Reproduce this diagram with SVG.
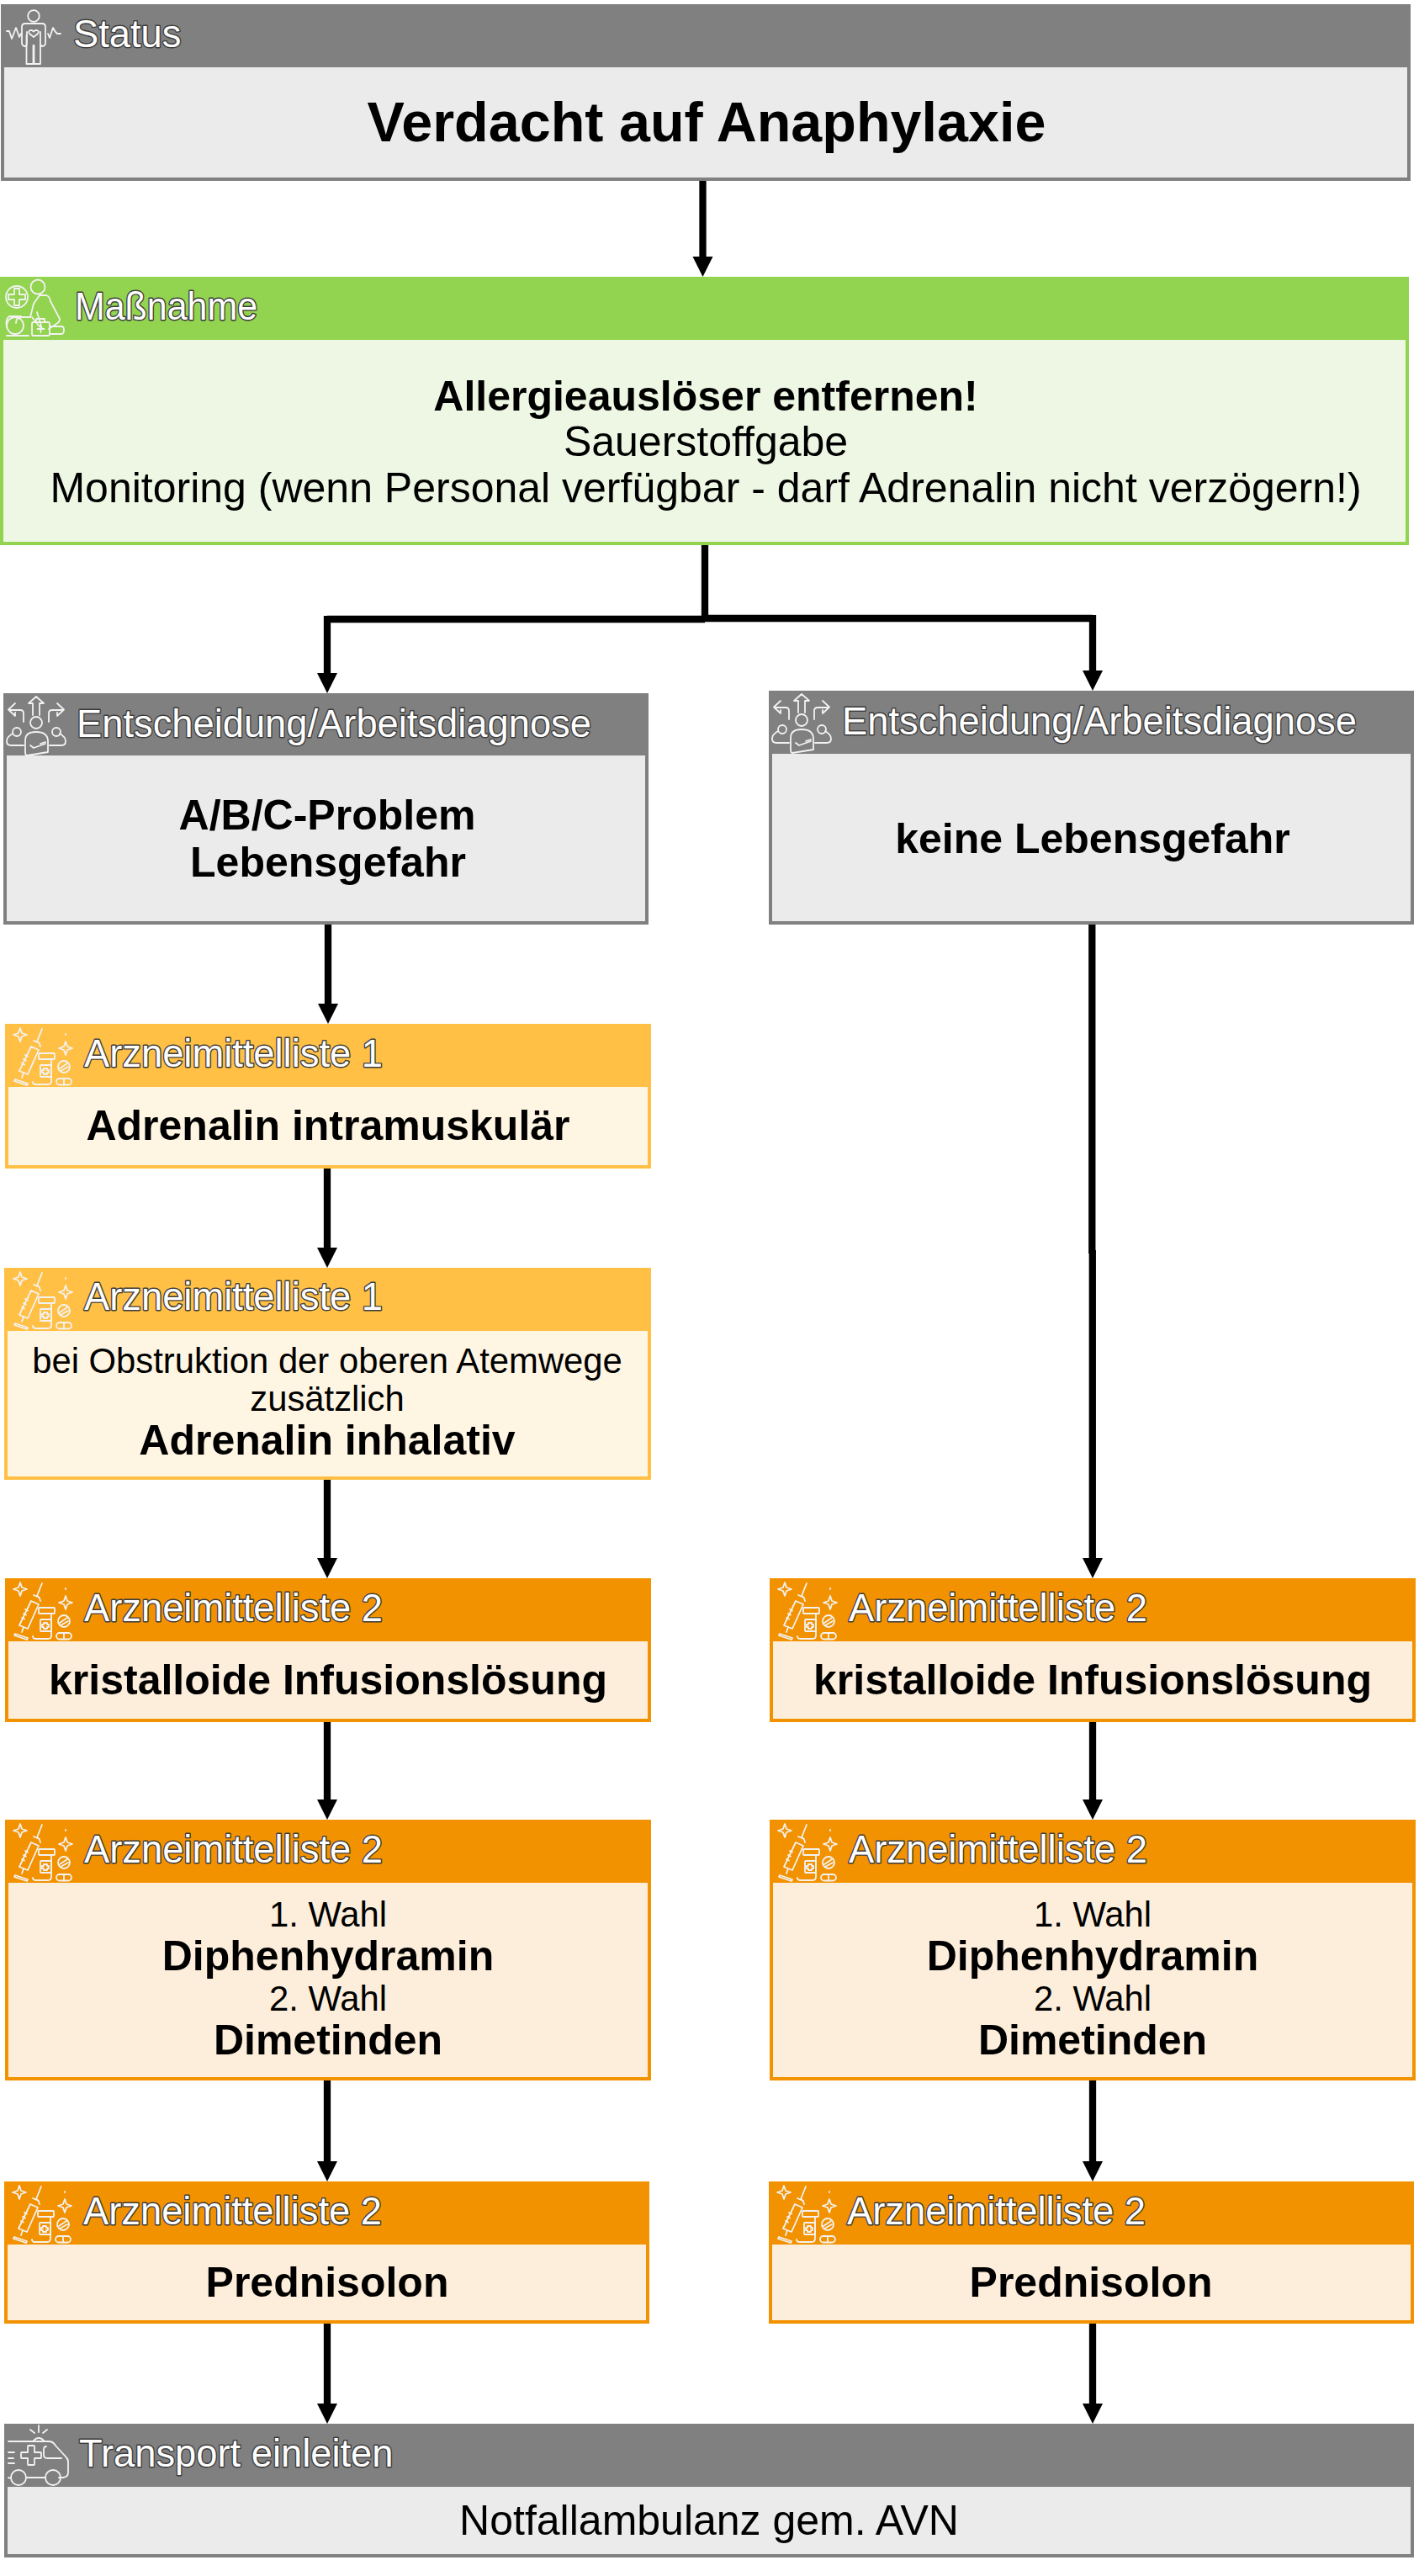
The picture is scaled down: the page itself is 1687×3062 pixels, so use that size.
<svg xmlns="http://www.w3.org/2000/svg" width="1687" height="3062" viewBox="0 0 1687 3062">
<style>
text{font-family:"Liberation Sans",Arial,sans-serif;text-anchor:middle;fill:#000}
.h{font-size:45.300px;fill:#fff;stroke:#3c3c3c;stroke-width:2.800px;text-anchor:start;paint-order:stroke;stroke-linejoin:round}
.b{font-weight:bold;font-size:50px}
.r{font-size:41.800px}
.n{font-size:50px}
.ic{fill:none;stroke:#f2f2f2;stroke-width:1.800;stroke-linecap:round;stroke-linejoin:round}
.gb{fill:#ebebeb;stroke:#808080;stroke-width:4}
.gh{fill:#808080}
.ob{fill:#fff5e3;stroke:#ffc045;stroke-width:4}
.oh{fill:#ffc045}
.db{fill:#fdeedb;stroke:#f39200;stroke-width:4}
.dh{fill:#f39200}
.lb{fill:#edf7e4;stroke:#92d350;stroke-width:4}
.lh{fill:#92d350}
.c{fill:none;stroke:#000;stroke-width:8.300}
.ah{fill:#000}
</style>
<defs>
<g id="i-med" class="ic">
<path d="M18 5l2 6 6 2-6 2-2 6-2-6-6-2 6-2zM72 21l2 6 6 2-6 2-2 6-2-6-6-2 6-2zM72 12v1"/>
<path d="M44 6l-6 15M34 20l7 3M31 27l9 4-13 29-10-4zM38 21q3 1 4 6M22 58l-2 6M12 66l15 5-1 2-15-5zM24 37l3 1.500M22 42l3 1.500M20 47l3 1.500"/>
<path d="M41 35h17q1 0 1 1v5q0 1-1 1H41q-1 0-1-1v-5q0-1 1-1zM55 42v26q0 4-4 4H37q-4 0-4-3"/>
<rect x="42" y="49" width="13" height="14" rx="1"/>
<path d="M46 53h4v2h2v3h-2v2h-4v-2h-2v-3h2z"/>
<circle cx="70" cy="51" r="7"/><path d="M65 53l9-6M66 56l9-5"/>
<rect x="61" y="65" width="18" height="7.500" rx="3.700"/><path d="M70 65v7.500"/>
</g>
<g id="i-dec" class="ic">
<circle cx="39" cy="35" r="7"/><circle cx="16" cy="46" r="5"/><circle cx="63" cy="46" r="5"/>
<path d="M24 34V24q0-4-4-4H7M14 12l-8 7.500 8 7.500v-4M54 34V24q0-4 4-4h13M64 12l8 7.500-8 7.500v-4M35 26V12h-5l9-8 9 8h-5v14"/>
<path d="M24 62H9q-5 0-5-5t7-9M55 62h14q5 0 5-5t-7-9"/>
<path d="M26 70V56q0-10 13-10t14 10v14l-25 4q-2 0-2-4zM32 62l4 3 14-5M44 60l6-2"/>
</g>
<g id="i-status" class="ic">
<circle cx="40" cy="19" r="6.800"/>
<path d="M8 37h3l3 9 5-13 4 11 2-4M72 40h-4l-2-2-3-5-4 12-2-5M30 28h20q4 0 4 4v20q-1 3-4 3l-2-2V38M30 28q-4 0-4 4v20q1 3 4 3l2-2V38M31.500 42v34h8V54h1v22h7.500V42"/>
<path d="M40 44l-5-4q-2-3 1-4h2l2 1.500 2-1.500h2q3 1 1 4z"/>
</g>
<g id="i-act" class="ic">
<circle cx="20" cy="24" r="13"/><path d="M17 14h6v7h7v6h-7v7h-6v-7h-7v-6h7z"/>
<circle cx="45" cy="12" r="8.500"/>
<path d="M47 22l8 0q4 1 5 7l11 21q0 4-4 6l-9 6M47 22l-7 10-4 16H25q-6 0-6 7M38 48l8 10 5 4M44 42l6 20"/>
<circle cx="18" cy="58" r="10"/><path d="M8 60q-2-9 3-13h14M8 70h26"/>
<rect x="38" y="54" width="21" height="16" rx="2"/><path d="M43 54v-4h10v4M48.500 58v8M44.500 62h8M59 59h14q3 0 3 4.500t-3 4.500H59"/>
</g>
<g id="i-amb" class="ic">
<path d="M41 2v8M31 7l5 4M51 7l-5 4M5 21h48q5 0 8 5l12 13q3 3 3 6v13q0 5-6 6h-5M5 64q1 1 3 0M26 64h23M34 21q7-8 14 0"/>
<path d="M5 34h7M5 41h6M5 47h7"/>
<path d="M29 26h6q1 0 1 1v7h7q1 0 1 1v5q0 1-1 1h-7v7q0 1-1 1h-6q-1 0-1-1v-7h-7q-1 0-1-1v-5q0-1 1-1h7v-7q0-1 1-1z"/>
<path d="M50 27q-3 0-3 4v6q0 4 4 4h17"/>
<circle cx="17" cy="64" r="9"/><circle cx="58" cy="64" r="9"/>
</g>
<polygon id="hd" points="-12,-24 12,-24 0,0"/>
</defs>

<g id="connectors">
<path class="c" d="M835.500 215V310"/><use href="#hd" class="ah" x="835.500" y="329"/>
<path class="c" d="M838 648V739M838 736H389M838 735H1299M389 732V805M1299 731V802"/><use href="#hd" class="ah" x="389" y="824"/><use href="#hd" class="ah" x="1299" y="821"/>
<path class="c" d="M390 1099V1198"/><use href="#hd" class="ah" x="390" y="1217"/>
<path class="c" d="M389 1389V1488"/><use href="#hd" class="ah" x="389" y="1507"/>
<path class="c" d="M389 1757V1857"/><use href="#hd" class="ah" x="389" y="1876"/>
<path class="c" d="M389 2047V2144"/><use href="#hd" class="ah" x="389" y="2163"/>
<path class="c" d="M389 2472V2574"/><use href="#hd" class="ah" x="389" y="2593"/>
<path class="c" d="M389 2761V2862"/><use href="#hd" class="ah" x="389" y="2881"/>
<path class="c" d="M1298.300 1099V1490"/><path class="c" d="M1298.800 1486V1857"/><use href="#hd" class="ah" x="1299" y="1876"/>
<path class="c" d="M1299 2047V2144"/><use href="#hd" class="ah" x="1299" y="2163"/>
<path class="c" d="M1299 2472V2574"/><use href="#hd" class="ah" x="1299" y="2593"/>
<path class="c" d="M1299 2761V2862"/><use href="#hd" class="ah" x="1299" y="2881"/>
</g>

<g id="n-status">
<rect class="gb" x="3" y="7" width="1672" height="206"/><rect class="gh" x="1" y="5" width="1676" height="75"/>
<use href="#i-status"/>
<text class="h" x="87" y="56">Status</text>
<text x="840" y="168" font-size="66.500" font-weight="bold">Verdacht auf Anaphylaxie</text>
</g>

<g id="n-massnahme">
<rect class="lb" x="2" y="331" width="1671" height="315"/><rect class="lh" x="0" y="329" width="1675" height="75"/>
<use href="#i-act" transform="translate(0 329)"/>
<text class="h" x="89" y="380" textLength="217" lengthAdjust="spacingAndGlyphs">Maßnahme</text>
<text class="b" x="839" y="488">Allergieauslöser entfernen!</text>
<text class="n" x="839" y="542">Sauerstoffgabe</text>
<text class="n" x="839" y="597">Monitoring (wenn Personal verfügbar - darf Adrenalin nicht verzögern!)</text>
</g>

<g id="n-dec-l">
<rect class="gb" x="6" y="826" width="763" height="271"/><rect class="gh" x="4" y="824" width="767" height="74"/>
<use href="#i-dec" transform="translate(4 824)"/>
<text class="h" x="91" y="876">Entscheidung/Arbeitsdiagnose</text>
<text class="b" x="389" y="986">A/B/C-Problem</text>
<text class="b" x="390" y="1042">Lebensgefahr</text>
</g>

<g id="n-dec-r">
<rect class="gb" x="916" y="823" width="763" height="274"/><rect class="gh" x="914" y="821" width="767" height="75"/>
<use href="#i-dec" transform="translate(914 821)"/>
<text class="h" x="1001" y="873">Entscheidung/Arbeitsdiagnose</text>
<text class="b" x="1299" y="1014">keine Lebensgefahr</text>
</g>

<g id="n-am1a">
<rect class="ob" x="8" y="1219" width="764" height="168"/><rect class="oh" x="6" y="1217" width="768" height="75"/>
<use href="#i-med" transform="translate(6 1217)"/>
<text class="h" x="100" y="1268">Arzneimittelliste 1</text>
<text class="b" x="390" y="1355">Adrenalin intramuskulär</text>
</g>

<g id="n-am1b">
<rect class="ob" x="7" y="1509" width="765" height="248"/><rect class="oh" x="5" y="1507" width="769" height="75"/>
<use href="#i-med" transform="translate(6 1507)"/>
<text class="h" x="100" y="1557">Arzneimittelliste 1</text>
<text class="r" x="389" y="1632">bei Obstruktion der oberen Atemwege</text>
<text class="r" x="389" y="1677">zusätzlich</text>
<text class="b" x="389" y="1729">Adrenalin inhalativ</text>
</g>

<g id="n-am2a-l">
<rect class="db" x="8" y="1878" width="764" height="167"/><rect class="dh" x="6" y="1876" width="768" height="75"/>
<use href="#i-med" transform="translate(6 1876)"/>
<text class="h" x="100" y="1927">Arzneimittelliste 2</text>
<text class="b" x="390" y="2014">kristalloide Infusionslösung</text>
</g>

<g id="n-am2b-l">
<rect class="db" x="8" y="2165" width="764" height="306"/><rect class="dh" x="6" y="2163" width="768" height="75"/>
<use href="#i-med" transform="translate(6 2163)"/>
<text class="h" x="100" y="2214">Arzneimittelliste 2</text>
<text class="r" x="390" y="2290">1. Wahl</text>
<text class="b" x="390" y="2342">Diphenhydramin</text>
<text class="r" x="390" y="2390">2. Wahl</text>
<text class="b" x="390" y="2442">Dimetinden</text>
</g>

<g id="n-am2c-l">
<rect class="db" x="7" y="2595" width="763" height="165"/><rect class="dh" x="5" y="2593" width="767" height="75"/>
<use href="#i-med" transform="translate(5 2593)"/>
<text class="h" x="99" y="2644">Arzneimittelliste 2</text>
<text class="b" x="389" y="2730">Prednisolon</text>
</g>

<g id="n-am2a-r">
<rect class="db" x="917" y="1878" width="764" height="167"/><rect class="dh" x="915" y="1876" width="768" height="75"/>
<use href="#i-med" transform="translate(915 1876)"/>
<text class="h" x="1009" y="1927">Arzneimittelliste 2</text>
<text class="b" x="1299" y="2014">kristalloide Infusionslösung</text>
</g>

<g id="n-am2b-r">
<rect class="db" x="917" y="2165" width="764" height="306"/><rect class="dh" x="915" y="2163" width="768" height="75"/>
<use href="#i-med" transform="translate(915 2163)"/>
<text class="h" x="1009" y="2214">Arzneimittelliste 2</text>
<text class="r" x="1299" y="2290">1. Wahl</text>
<text class="b" x="1299" y="2342">Diphenhydramin</text>
<text class="r" x="1299" y="2390">2. Wahl</text>
<text class="b" x="1299" y="2442">Dimetinden</text>
</g>

<g id="n-am2c-r">
<rect class="db" x="916" y="2595" width="763" height="165"/><rect class="dh" x="914" y="2593" width="767" height="75"/>
<use href="#i-med" transform="translate(914 2593)"/>
<text class="h" x="1007" y="2644">Arzneimittelliste 2</text>
<text class="b" x="1297" y="2730">Prednisolon</text>
</g>

<g id="n-transport">
<rect class="gb" x="7" y="2883" width="1672" height="155"/><rect class="gh" x="5" y="2881" width="1676" height="75"/>
<use href="#i-amb" transform="translate(5 2881)"/>
<text class="h" x="94" y="2932">Transport einleiten</text>
<text class="n" x="843" y="3013">Notfallambulanz gem. AVN</text>
</g>
</svg>
